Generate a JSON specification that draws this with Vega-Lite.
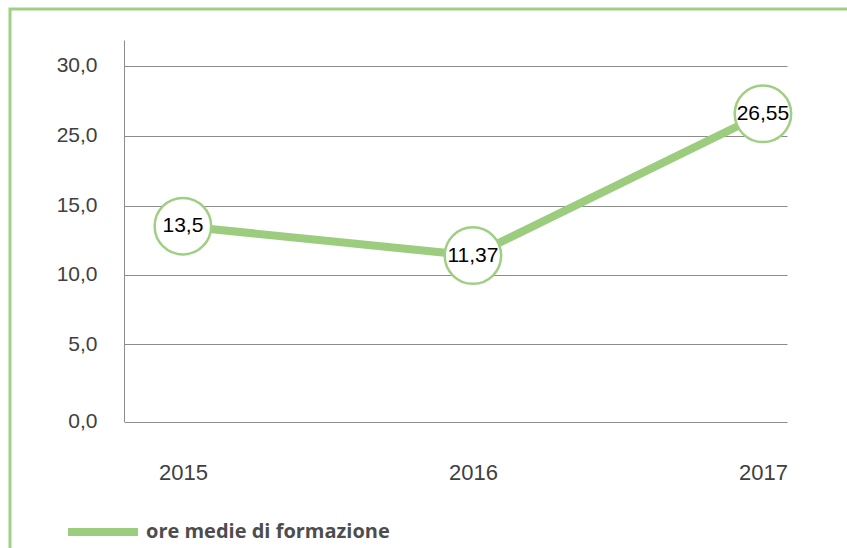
{
  "$schema": "https://vega.github.io/schema/vega-lite/v6.json",
  "autosize": {"type": "none"},
  "width": 842,
  "height": 545,
  "padding": {"left": 10, "top": 9, "right": -5, "bottom": -6},
  "background": "white",
  "data": {
    "values": [
      {"anno": "2015", "valore": 13.5, "serie": "ore medie di formazione"},
      {"anno": "2016", "valore": 11.37, "serie": "ore medie di formazione"},
      {"anno": "2017", "valore": 26.55, "serie": "ore medie di formazione"}
    ]
  },
  "encoding": {
    "x": {
      "field": "anno",
      "type": "ordinal",
      "scale": {"type": "point", "range": [114, 777], "padding": 0.143, "align": 0.71},
      "axis": {
        "orient": "bottom",
        "offset": -132.5,
        "title": null,
        "domain": false,
        "ticks": false,
        "tickSize": 0,
        "grid": false,
        "labelAngle": 0,
        "labelPadding": 41,
        "labelFont": "Liberation Sans",
        "labelFontSize": 22,
        "labelColor": "#404040"
      }
    },
    "y": {
      "field": "valore",
      "type": "quantitative",
      "scale": {
        "type": "linear",
        "domain": [0, 5, 10, 15, 25, 30, 31.8],
        "range": [412.5, 335, 265.5, 196.5, 126.5, 56.5, 31],
        "zero": false,
        "nice": false
      },
      "axis": {
        "orient": "left",
        "offset": -114,
        "title": null,
        "values": [0, 5, 10, 15, 25, 30],
        "format": ".1f",
        "domain": true,
        "domainColor": "#8c8c8c",
        "domainWidth": 1,
        "ticks": false,
        "tickSize": 0,
        "grid": true,
        "gridColor": "#8c8c8c",
        "gridWidth": 1,
        "labelPadding": 27,
        "labelFont": "Liberation Sans",
        "labelFontSize": 21,
        "labelColor": "#404040"
      }
    }
  },
  "layer": [
    {
      "mark": {"type": "line", "strokeWidth": 8},
      "encoding": {
        "color": {
          "field": "serie",
          "type": "nominal",
          "scale": {"range": ["#9ccc7e"]},
          "legend": {
            "orient": "none",
            "legendX": 54,
            "legendY": 484,
            "title": null,
            "padding": 0,
            "symbolType": "stroke",
            "symbolSize": 4900,
            "symbolStrokeWidth": 8,
            "labelOffset": 4,
            "labelLimit": 500,
            "labelFont": "Open Sans",
            "labelFontWeight": 700,
            "labelFontSize": 20,
            "labelColor": "#4d4d4d"
          }
        }
      }
    },
    {
      "mark": {"type": "point", "shape": "circle", "filled": false, "fill": "white", "fillOpacity": 1, "stroke": "#a0cf84", "strokeWidth": 2.5, "opacity": 1, "size": 3190}
    },
    {
      "mark": {"type": "text", "font": "Liberation Sans", "fontSize": 21, "color": "black", "baseline": "middle", "align": "center"},
      "encoding": {
        "text": {"field": "valore", "type": "quantitative", "format": ".2~f"}
      }
    }
  ],
  "config": {
    "locale": {"number": {"decimal": ",", "thousands": ".", "grouping": [3], "currency": ["€", ""]}},
    "view": {"stroke": "#9fd086", "strokeWidth": 3}
  }
}
